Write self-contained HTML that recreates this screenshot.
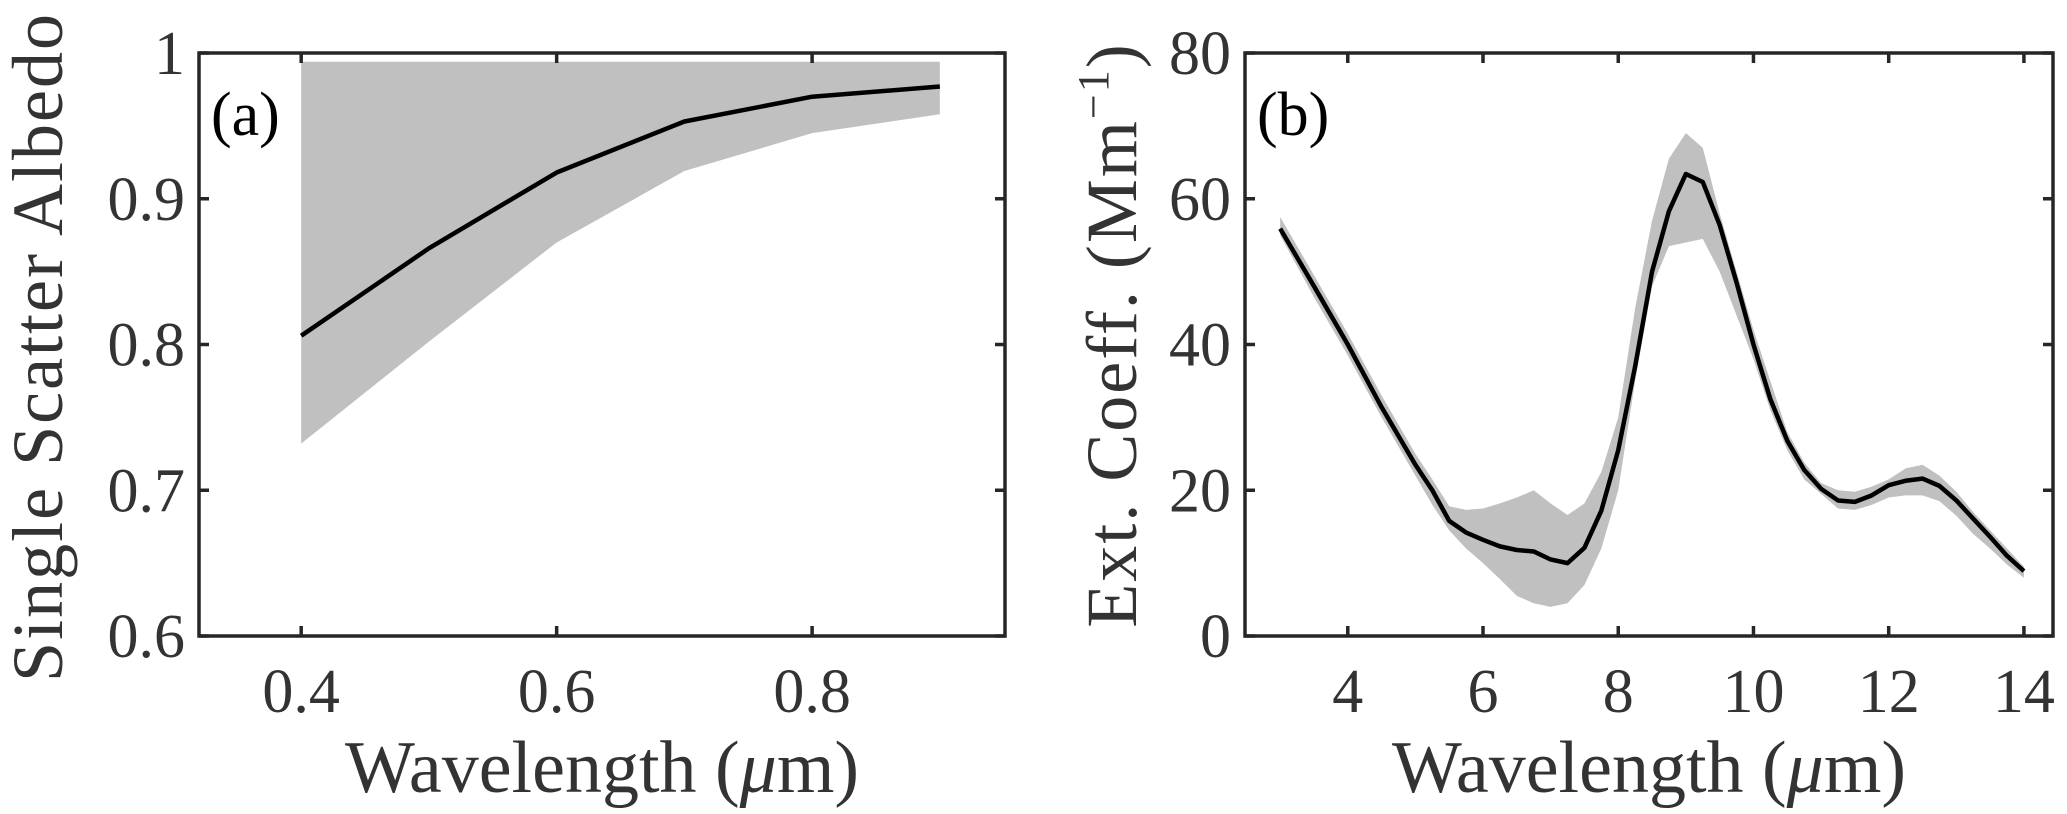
<!DOCTYPE html>
<html><head><meta charset="utf-8"><style>
html,body{margin:0;padding:0;background:#fff;}
svg{display:block;font-family:"Liberation Serif","DejaVu Serif",serif;}
</style></head><body>
<svg id="fig" width="2067" height="814" viewBox="0 0 2067 814"></svg>
<script>
// Panel (a) data
const aWavelengths=[0.4,0.5,0.6,0.7,0.8,0.9];
const aAlbedo=[0.806,0.866,0.918,0.953,0.970,0.977];
const aUpper=[0.994,0.994,0.994,0.994,0.994,0.994];
const aLower=[0.732,0.802,0.870,0.919,0.945,0.958];
const aXTicks=[0.4,0.6,0.8];
const aYTicks=[0.6,0.7,0.8,0.9,1];
const aYTickLabels=["0.6","0.7","0.8","0.9","1"];
// Panel (b) data
const bWavelengths=[3,3.5,4,4.5,5,5.25,5.5,5.75,6,6.25,6.5,6.75,7,7.25,7.5,7.75,8,8.25,8.5,8.75,9,9.25,9.5,9.75,10,10.25,10.5,10.75,11,11.25,11.5,11.75,12,12.25,12.5,12.75,13,13.25,13.5,13.75,14];
const bExt=[55.9,48,40,31.4,23.5,20,15.8,14.2,13.2,12.3,11.8,11.6,10.5,10,12.1,17.2,25.5,37,50,58.3,63.4,62.3,56.4,48.5,40,32.5,26.8,22.8,20.2,18.6,18.4,19.3,20.7,21.3,21.6,20.6,18.6,16.1,13.6,11,8.9];
const bUpper=[57.5,49.5,41.5,33,25,21.5,17.8,17.3,17.5,18.2,19,20,18.2,16.6,18.2,22.5,30,45,57,65.5,69,67,58,50,42,35,28,23.8,21,20,19.8,20.5,21.5,23,23.5,22,19.8,17,14.5,12,9.5];
const bLower=[55,46.5,38.5,30,22,18,14.5,12,10,7.8,5.5,4.5,4,4.5,7,12,20,35,48,53.5,54,54.5,50,44,38,31,25.5,21.5,19.5,17.5,17.3,18,19,19.3,19.3,18.5,16.5,14,12,9.8,8];
const bXTicks=[4,6,8,10,12,14];
const bYTicks=[0,20,40,60,80];

const NS="http://www.w3.org/2000/svg";
const svg=document.getElementById('fig');
function mk(tag,attrs,parent){const e=document.createElementNS(NS,tag);for(const k in attrs)e.setAttribute(k,attrs[k]);(parent||svg).appendChild(e);return e;}

function panel(o){
  const g=mk('g',{});
  
  
  const sx=v=>o.L+(v-o.x0)/(o.x1-o.x0)*(o.R-o.L);
  const sy=v=>o.B-(v-o.y0)/(o.y1-o.y0)*(o.B-o.T);
  let pts=o.xs.map((x,i)=>sx(x)+','+sy(o.up[i]));
  for(let i=o.xs.length-1;i>=0;i--)pts.push(sx(o.xs[i])+','+sy(o.lo[i]));
  const band=mk('polygon',{points:pts.join(' '),fill:'#c0c0c0',stroke:'none'},g);
  
  
  const line=mk('polyline',{points:o.xs.map((x,i)=>sx(x)+','+sy(o.ys[i])).join(' '),fill:'none',stroke:'#000','stroke-width':4.5,'stroke-linejoin':'round'},g);
  
  
  const box=mk('rect',{x:o.L,y:o.T,width:o.R-o.L,height:o.B-o.T,fill:'none',stroke:'#262626','stroke-width':3.5},g);
  
  
  o.xt.forEach(v=>{
    const x=sx(v);
    mk('line',{x1:x,y1:o.B,x2:x,y2:o.B-10,stroke:'#262626','stroke-width':3.5},g);
    mk('line',{x1:x,y1:o.T,x2:x,y2:o.T+10,stroke:'#262626','stroke-width':3.5},g);
    const t=mk('text',{x:x,y:712,'text-anchor':'middle','font-size':62,fill:'#333'},g);
    t.textContent=o.xtl?o.xtl(v):String(v);
    
    
  });
  o.yt.forEach((v,i)=>{
    const y=sy(v);
    mk('line',{x1:o.L,y1:y,x2:o.L+10,y2:y,stroke:'#262626','stroke-width':3.5},g);
    mk('line',{x1:o.R,y1:y,x2:o.R-10,y2:y,stroke:'#262626','stroke-width':3.5},g);
    const t=mk('text',{x:o.L-14,y:y+21,'text-anchor':'end','font-size':62,fill:'#333'},g);
    t.textContent=o.ytl?o.ytl[i]:String(v);
    
    
  });
  const xl=mk('text',{x:(o.L+o.R)/2,y:792,'text-anchor':'middle','font-size':74,fill:'#333'},g);
  xl.innerHTML='Wavelength (<tspan font-style="italic">μ</tspan>m)';
  
  
  const yl=mk('text',{x:0,y:0,'text-anchor':'middle','font-size':72,fill:'#333','letter-spacing':'2',transform:`translate(${o.ylx},${o.yly}) rotate(-90)`},g);
  yl.innerHTML=o.ylab;
  
  
  const pl=mk('text',{x:o.L+12,y:135,'font-size':62,fill:'#000'},g);
  pl.textContent=o.plabel;
  
  
}

panel({name:'panel-a',L:199,R:1005,T:53,B:636,x0:0.32,x1:0.951,y0:0.6,y1:1,
  xs:aWavelengths,ys:aAlbedo,up:aUpper,lo:aLower,xt:aXTicks,yt:aYTicks,ytl:aYTickLabels,
  xtl:v=>v.toFixed(1),ylab:'Single Scatter Albedo',ylx:62,yly:347,plabel:'(a)'});
panel({name:'panel-b',L:1245,R:2053,T:53,B:636,x0:2.48,x1:14.43,y0:0,y1:80,
  xs:bWavelengths,ys:bExt,up:bUpper,lo:bLower,xt:bXTicks,yt:bYTicks,
  ylab:'Ext.  Coeff.  (Mm<tspan dy="-28" font-size="44">−1</tspan><tspan dy="28">)</tspan>',ylx:1136,yly:335,plabel:'(b)'});
</script>
</body></html>
